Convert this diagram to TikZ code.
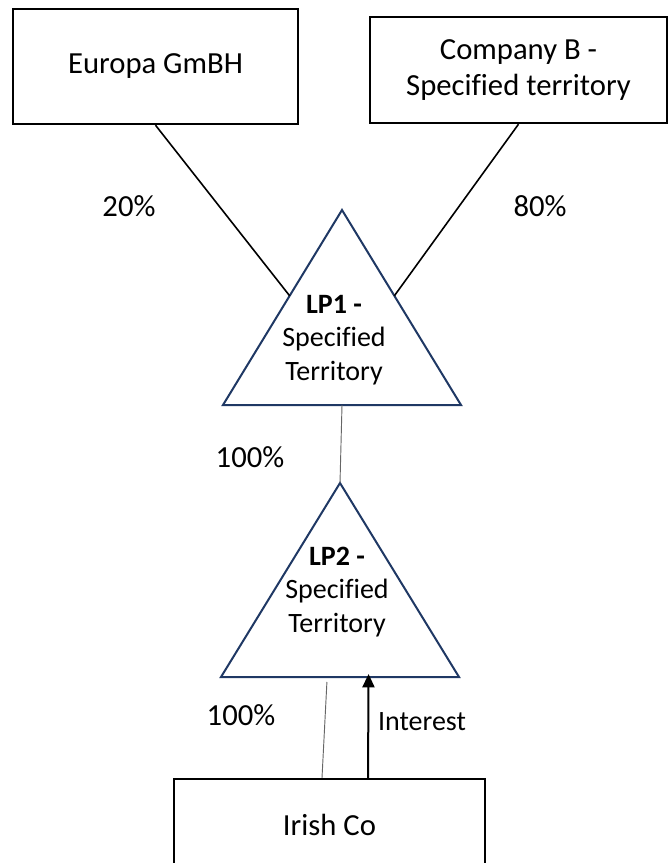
\documentclass[tikz,border=0pt]{standalone}
\usepackage{fontspec}
\setmainfont{Carlito}[Ligatures=NoCommon]
\usetikzlibrary{arrows.meta,calc}
\definecolor{lpnavy}{RGB}{31,56,100}

\begin{document}
\begin{tikzpicture}[x=0.75pt,y=-0.75pt]
    \tikzstyle{entity}=[rectangle,draw=black,line width=1.8pt,inner sep=0pt,align=center,font=\fontsize{23}{27}\selectfont]
    \tikzstyle{lp}=[draw=lpnavy,line width=1.5pt,line join=miter]
    \tikzstyle{lptext}=[align=center,inner sep=0pt,font=\fontsize{21}{25}\selectfont]
    \tikzstyle{pct}=[inner sep=0pt,font=\fontsize{23}{27}\selectfont]
    \tikzstyle{link}=[draw=black,line width=1.2pt]
    \tikzstyle{thinlink}=[draw=black!60,line width=0.7pt]
    \useasboundingbox (0,0) rectangle (668,863);

    \node[entity,minimum width=213.75pt,minimum height=86.25pt] (europa) at (155.5,66.5) {Europa GmBH};
    \node[entity,minimum width=222.75pt,minimum height=79.5pt] (compb) at (518.5,70) {Company B -\\Specified territory};
    \node[entity,minimum width=233.25pt,minimum height=68.25pt] (irish) at (329.5,824.5) {Irish Co};

    \foreach \n/\cx/\ty/\by/\tx/\txy in {1/342/210/405/334/340, 2/340/483/677/337/592} {
        \coordinate (LP\n-top) at (\cx,\ty);
        \coordinate (LP\n-left) at (\cx-119,\by);
        \coordinate (LP\n-right) at (\cx+119,\by);
        \draw[lp] (LP\n-top) -- (LP\n-left) -- (LP\n-right) -- cycle;
        \node[lptext] (LP\n) at (\tx,\txy) {\textbf{LP\n\ -}\\Specified\\Territory};
    }

    \draw[link] (europa.south) -- ($(LP1-top)!0.44!(LP1-left)$);
    \draw[link] (compb.south) -- ($(LP1-top)!0.44!(LP1-right)$);
    \draw[thinlink] ($(LP1-left)!0.5!(LP1-right)$) -- (LP2-top);
    \draw[thinlink] ($(LP2-left)!0.445!(LP2-right)+(0,5)$) -- ($(irish.north)+(-7.5,0)$);
    \draw[link,line width=1.5pt,-{Triangle[length=10pt,width=9pt]}] ($(irish.north)+(38.5,0)$) -- ($(LP2-left)!0.62!(LP2-right)+(0,-3)$);

    \node[pct] (pct20) at (129,206) {20\%};
    \node[pct] (pct80) at (540,206) {80\%};
    \node[pct] (pct100a) at (250,457) {100\%};
    \node[pct] (pct100b) at (241,715) {100\%};
    \node[lptext] (interest) at (422,722) {Interest};
\end{tikzpicture}
\end{document}
